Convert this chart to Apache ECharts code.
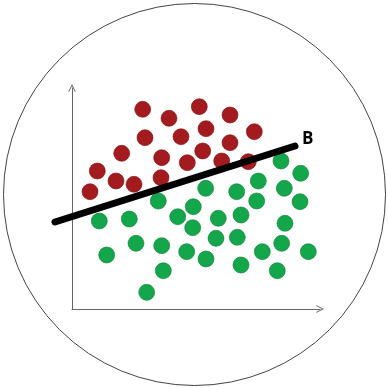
<!DOCTYPE html>
<html>
<head>
<meta charset="utf-8">
<script src="https://cdn.jsdelivr.net/npm/echarts@6/dist/echarts.min.js"></script>
<style>
  html, body { margin: 0; padding: 0; background: #fff; }
  #chart { width: 388px; height: 387px; }
</style>
</head>
<body>
<div id="chart"></div>
<script>
// Class A points (red), in axis units
const redPoints = [
  [70.7, 199.7], [97, 190.7], [127.3, 202.3], [158, 194],
  [73, 171.3], [109, 172.3], [134, 180.3], [182.3, 177.3],
  [49.7, 155.7], [89.7, 151.3], [130.7, 158], [158, 166.3],
  [115.3, 146.3], [149.7, 148], [176.3, 147.3],
  [25.3, 138], [44, 128], [62, 124.7], [89, 131.3], [18, 117.3]
];

// Class B points (green), in axis units
const greenPoints = [
  [209, 148], [228.7, 135.7], [186.3, 128], [133.7, 120.7], [164.7, 117.3],
  [212.3, 120.7], [184.7, 108], [228, 107.3], [86.3, 108], [121.3, 102.3],
  [27.3, 88], [57.3, 90], [105.7, 92.3], [146.3, 90.7], [169, 94],
  [120.7, 81.3], [213, 85.7], [64, 65.7], [89.7, 63.3], [144, 70.7],
  [165.3, 71.7], [209.7, 65.7], [34.7, 54], [114.7, 57.3], [134, 50],
  [190.3, 57.3], [236.3, 57.3], [169, 44], [205.3, 38.3], [91.3, 38.3],
  [74.7, 16.7]
];

// Separating line "B" (starts a little left of the vertical axis)
const boundary = [[-17, 87], [223, 163]];
const boundaryName = 'B';

const axisMax = { x: 248, y: 221 };
const lineXMin = -20;

const chevron = 'path://M0,10 L5,0 L10,10 L9,10.8 L5,2.6 L1,10.8 Z';

const axisCommon = {
  type: 'value',
  min: 0,
  axisLine: {
    show: true,
    lineStyle: { color: '#666', width: 1 },
    symbol: ['none', chevron],
    symbolSize: [12, 8]
  },
  axisTick: { show: false },
  axisLabel: { show: false },
  splitLine: { show: false }
};

const hiddenAxis = {
  type: 'value',
  show: false,
  axisLine: { show: false },
  axisTick: { show: false },
  axisLabel: { show: false },
  splitLine: { show: false }
};

const chart = echarts.init(document.getElementById('chart'), null, { renderer: 'canvas' });
chart.setOption({
  backgroundColor: '#fff',
  animation: false,
  graphic: [{
    type: 'circle',
    shape: { cx: 194.5, cy: 194.5, r: 191 },
    style: { fill: 'none', stroke: '#444', lineWidth: 1 },
    z: -1
  }],
  grid: [
    { left: 72, top: 88, width: 248, height: 221 },
    // same scale, widened to the left so the boundary line is not cut
    { left: 72 + lineXMin, top: 88, width: 248 - lineXMin, height: 221 }
  ],
  xAxis: [
    Object.assign({}, axisCommon, { max: axisMax.x, gridIndex: 0 }),
    Object.assign({}, hiddenAxis, { min: lineXMin, max: axisMax.x, gridIndex: 1 })
  ],
  yAxis: [
    Object.assign({}, axisCommon, { max: axisMax.y, gridIndex: 0 }),
    Object.assign({}, hiddenAxis, { min: 0, max: axisMax.y, gridIndex: 1 })
  ],
  series: [
    {
      type: 'scatter',
      data: redPoints,
      symbolSize: 16,
      itemStyle: { color: '#a31b1f', borderColor: '#761214', borderWidth: 0.6, opacity: 1 },
      z: 2
    },
    {
      type: 'scatter',
      data: greenPoints,
      symbolSize: 16,
      itemStyle: { color: '#13a64b', borderColor: '#0d7a36', borderWidth: 0.6, opacity: 1 },
      z: 2
    },
    {
      type: 'line',
      xAxisIndex: 1,
      yAxisIndex: 1,
      data: boundary,
      clip: false,
      symbol: 'none',
      lineStyle: { color: '#000', width: 7, cap: 'round' },
      endLabel: {
        show: true,
        formatter: boundaryName,
        fontSize: 17,
        fontWeight: 'bold',
        fontFamily: 'Open Sans',
        color: '#000',
        distance: 7,
        offset: [0, -7]
      },
      z: 3
    }
  ]
});
</script>
</body>
</html>
